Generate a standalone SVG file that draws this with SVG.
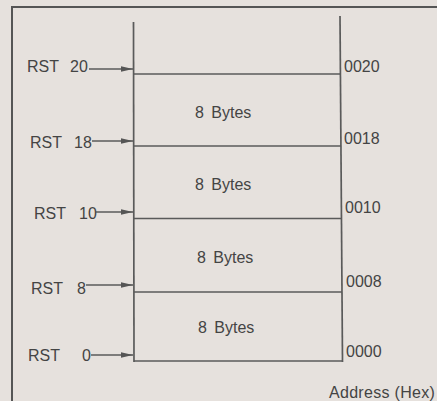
<svg xmlns="http://www.w3.org/2000/svg" width="437" height="401" viewBox="0 0 437 401">
<style>
.bg{fill:#e6e1dd}
.frame{fill:none;stroke:#555555;stroke-width:2}
.ln{stroke:#5a5a5a;stroke-width:1.7;fill:none}
.t{font-family:"Liberation Sans",Arial,sans-serif;font-size:16px;fill:#444444}
.bt{word-spacing:3px}
.arr{stroke:#5a5a5a;stroke-width:1.5;fill:none;marker-end:url(#ah)}
</style>
<defs>
<marker id="ah" viewBox="0 0 12 6" refX="12" refY="3" markerWidth="12" markerHeight="6" markerUnits="userSpaceOnUse" orient="auto">
<path d="M0,0.3 L12,3 L0,5.7 Z" fill="#555555"/>
</marker>
</defs>
<rect class="bg" x="0" y="0" width="437" height="401"/>
<path class="frame" d="M12,410 V7 H445"/>

<g id="memory-map">
<line class="ln" x1="133.5" y1="22" x2="134" y2="362"/>
<line class="ln" x1="340" y1="16" x2="342.5" y2="362"/>
</g>
<g id="block-top">
<line class="ln" x1="134" y1="74" x2="340.5" y2="74"/>
</g>
<g id="block-0018">
<line class="ln" x1="134" y1="146" x2="341" y2="146"/>
<text class="t bt" x="195" y="118">8 Bytes</text>
</g>
<g id="block-0010">
<line class="ln" x1="134" y1="218.5" x2="341.5" y2="218.5"/>
<text class="t bt" x="195" y="190">8 Bytes</text>
</g>
<g id="block-0008">
<line class="ln" x1="134" y1="292" x2="342" y2="292"/>
<text class="t bt" x="197" y="263">8 Bytes</text>
</g>
<g id="block-0000">
<line class="ln" x1="134" y1="361" x2="342.5" y2="361"/>
<text class="t bt" x="198" y="333">8 Bytes</text>
</g>

<g id="addresses">
<text class="t" x="344" y="72">0020</text>
<text class="t" x="344" y="144">0018</text>
<text class="t" x="345" y="213">0010</text>
<text class="t" x="346" y="287">0008</text>
<text class="t" x="346" y="357">0000</text>
<text class="t" x="329" y="398" style="letter-spacing:0.3px">Address (Hex)</text>
</g>

<g id="rst-labels">
<text class="t" y="72"><tspan x="27">RST</tspan><tspan x="70">20</tspan></text>
<text class="t" y="148"><tspan x="30">RST</tspan><tspan x="74">18</tspan></text>
<text class="t" y="219"><tspan x="34">RST</tspan><tspan x="79">10</tspan></text>
<text class="t" y="294"><tspan x="31">RST</tspan><tspan x="77">8</tspan></text>
<text class="t" y="361"><tspan x="28">RST</tspan><tspan x="82">0</tspan></text>
</g>

<g id="connectors">
<line class="arr" x1="89" y1="69" x2="133" y2="69"/>
<line class="arr" x1="92" y1="141" x2="133" y2="141"/>
<line class="arr" x1="96" y1="212" x2="133" y2="212"/>
<line class="arr" x1="86" y1="285" x2="133" y2="285"/>
<line class="arr" x1="91" y1="355" x2="133" y2="355"/>
</g>
</svg>
